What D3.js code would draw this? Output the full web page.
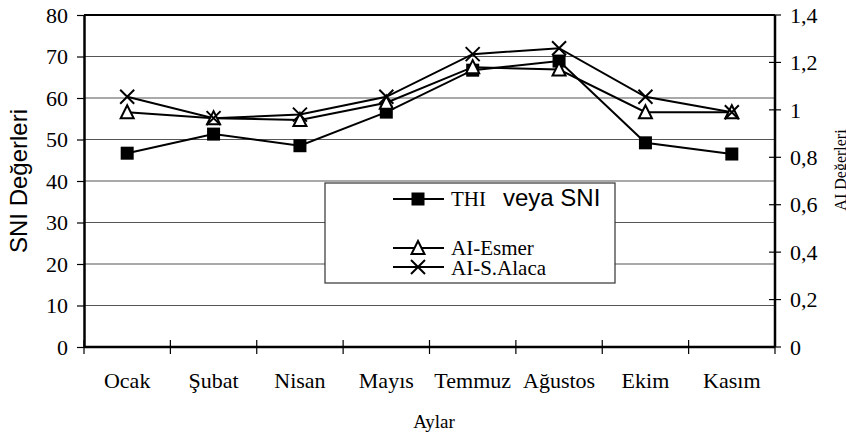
<!DOCTYPE html>
<html>
<head>
<meta charset="utf-8">
<script src="https://cdn.jsdelivr.net/npm/d3@7"></script>
<style>
  body { margin: 0; background: #fff; }
  svg { display: block; }
</style>
</head>
<body>
<svg width="846" height="437"></svg>
<script>
// aylar ve seriler
var months = ["Ocak", "Şubat", "Nisan", "Mayıs", "Temmuz", "Ağustos", "Ekim", "Kasım"];
var sni = [46.7, 51.3, 48.5, 56.6, 66.7, 68.9, 49.2, 46.5];      // sol eksen
var aiEsmer = [0.99, 0.965, 0.957, 1.03, 1.18, 1.17, 0.99, 0.99];  // sag eksen
var aiAlaca = [1.055, 0.965, 0.98, 1.055, 1.235, 1.26, 1.055, 0.99];
var leftTicks = [0, 10, 20, 30, 40, 50, 60, 70, 80];
var rightTicks = [0, 0.2, 0.4, 0.6, 0.8, 1, 1.2, 1.4];

var serif = "'Liberation Serif', 'Times New Roman', serif";
var sans = "'Liberation Sans', Arial, sans-serif";

var plotL = 84, plotR = 775, plotT = 15, plotB = 347;

var svg = d3.select("svg");

var x = d3.scaleBand().domain(months).range([plotL, plotR]).padding(0);
var yL = d3.scaleLinear().domain([0, 80]).range([plotB, plotT]);
var yR = d3.scaleLinear().domain([0, 1.4]).range([plotB, plotT]);

// grid
svg.append("g").selectAll("line")
    .data(leftTicks.slice(1, -1))
    .enter().append("line")
    .attr("x1", plotL).attr("x2", plotR)
    .attr("y1", d => yL(d)).attr("y2", d => yL(d))
    .attr("stroke", "#555").attr("stroke-width", 1.2);

// ust cerceve
svg.append("line")
    .attr("x1", plotL).attr("x2", plotR)
    .attr("y1", yL(80)).attr("y2", yL(80))
    .attr("stroke", "#000").attr("stroke-width", 2);

// sol eksen
var gL = svg.append("g")
    .attr("transform", "translate(" + plotL + ",0)")
    .call(d3.axisLeft(yL).tickValues(leftTicks).tickSize(7).tickPadding(9).tickSizeOuter(0));
gL.select(".domain").attr("stroke-width", 2.5);
gL.selectAll(".tick line").attr("stroke-width", 1.2);
gL.selectAll("text").style("font-family", serif).style("font-size", "22px").attr("fill", "#000");

// sag eksen (tikler cizgiyi kesiyor)
var gR = svg.append("g").attr("transform", "translate(" + plotR + ",0)");
gR.append("line").attr("y1", plotT).attr("y2", plotB).attr("stroke", "#000").attr("stroke-width", 2.5);
gR.selectAll(".rt").data(rightTicks).enter().append("line")
    .attr("x1", -6).attr("x2", 6)
    .attr("y1", d => yR(d)).attr("y2", d => yR(d))
    .attr("stroke", "#000").attr("stroke-width", 1.2);
gR.selectAll(".rl").data(rightTicks).enter().append("text")
    .attr("x", 15).attr("y", d => yR(d)).attr("dy", "0.35em")
    .style("font-family", serif).style("font-size", "22px")
    .text(d => d3.format(".1~f")(d).replace(".", ","));

// x ekseni
var bounds = months.map(m => x(m)).concat([plotR]);
svg.append("line")
    .attr("x1", plotL).attr("x2", plotR).attr("y1", plotB).attr("y2", plotB)
    .attr("stroke", "#000").attr("stroke-width", 2.5);
svg.append("g").selectAll("line").data(bounds).enter().append("line")
    .attr("x1", d => d).attr("x2", d => d)
    .attr("y1", plotB - 7).attr("y2", plotB + 7)
    .attr("stroke", "#000").attr("stroke-width", 1.2);
svg.append("g").selectAll("text").data(months).enter().append("text")
    .attr("x", d => x(d) + x.bandwidth() / 2).attr("y", 388)
    .attr("text-anchor", "middle")
    .style("font-family", serif).style("font-size", "22px")
    .text(d => d);

// eksen basliklari
svg.append("text").attr("transform", "translate(434,428)")
    .attr("text-anchor", "middle")
    .style("font-family", serif).style("font-size", "19px")
    .text("Aylar");
svg.append("text").attr("transform", "translate(27,181) rotate(-90)")
    .attr("text-anchor", "middle")
    .style("font-family", sans).style("font-size", "24px")
    .text("SNI Değerleri");
svg.append("text").attr("transform", "translate(846,170) rotate(-90)")
    .attr("text-anchor", "middle")
    .style("font-family", serif).style("font-size", "16px")
    .text("AI Değerleri");

// cizgiler
var cx = i => x(months[i]) + x.bandwidth() / 2;
function drawLine(vals, scale) {
    svg.append("path")
        .datum(vals)
        .attr("fill", "none").attr("stroke", "#000").attr("stroke-width", 2)
        .attr("d", d3.line().x((d, i) => cx(i)).y(d => scale(d)));
}
drawLine(sni, yL);
drawLine(aiEsmer, yR);
drawLine(aiAlaca, yR);

function square(g, px, py) {
    g.append("rect").attr("x", px - 6.5).attr("y", py - 6.5)
        .attr("width", 13).attr("height", 13).attr("fill", "#000");
}
function triangle(g, px, py) {
    g.append("path")
        .attr("d", "M" + px + "," + (py - 7) + "L" + (px + 6.5) + "," + (py + 6) + "L" + (px - 6.5) + "," + (py + 6) + "Z")
        .attr("fill", "#fff").attr("stroke", "#000").attr("stroke-width", 2);
}
function cross(g, px, py) {
    g.append("path")
        .attr("d", "M" + (px - 7) + "," + (py - 7) + "L" + (px + 7) + "," + (py + 7) + "M" + (px + 7) + "," + (py - 7) + "L" + (px - 7) + "," + (py + 7))
        .attr("fill", "none").attr("stroke", "#000").attr("stroke-width", 2);
}

var gm = svg.append("g");
sni.forEach((v, i) => square(gm, cx(i), yL(v)));
aiEsmer.forEach((v, i) => triangle(gm, cx(i), yR(v)));
aiAlaca.forEach((v, i) => cross(gm, cx(i), yR(v)));

// lejant
var lg = svg.append("g");
lg.append("rect").attr("x", 325).attr("y", 183).attr("width", 290).attr("height", 100)
    .attr("fill", "#fff").attr("stroke", "#333").attr("stroke-width", 1.2);
var legendItems = [
    { y: 199, mark: square },
    { y: 248, mark: triangle },
    { y: 267, mark: cross }
];
legendItems.forEach(it => {
    lg.append("line").attr("x1", 393).attr("x2", 444).attr("y1", it.y).attr("y2", it.y)
        .attr("stroke", "#000").attr("stroke-width", 2);
    it.mark(lg, 418, it.y);
});
lg.append("text").attr("x", 451).attr("y", 206)
    .style("font-family", serif).style("font-size", "21px").text("THI");
lg.append("text").attr("x", 503).attr("y", 206)
    .style("font-family", sans).style("font-size", "24px").text("veya SNI");
lg.append("text").attr("x", 451).attr("y", 255)
    .style("font-family", serif).style("font-size", "21px").text("AI-Esmer");
lg.append("text").attr("x", 451).attr("y", 275)
    .style("font-family", serif).style("font-size", "21px").text("AI-S.Alaca");
</script>
</body>
</html>
